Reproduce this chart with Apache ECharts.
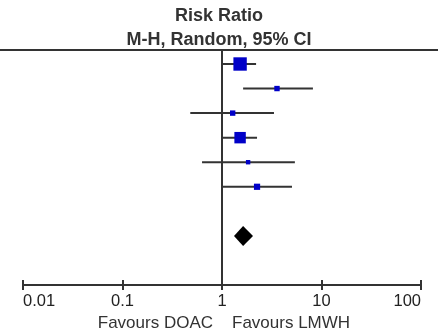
<!DOCTYPE html>
<html>
<head>
<meta charset="utf-8">
<script src="https://cdn.jsdelivr.net/npm/echarts@6/dist/echarts.min.js"></script>
<style>
  html, body { margin: 0; padding: 0; background: #fff; }
  #chart { width: 438px; height: 331px; }
</style>
</head>
<body>
<div id="chart"></div>
<script>
// study rows (top to bottom), risk ratio with 95% CI
const rows = [1, 2, 3, 4, 5, 6]
const estimates = [1.52, 3.57, 1.28, 1.52, 1.83, 2.25]
const lower = [1.0, 1.63, 0.48, 1.0, 0.63, 1.0]
const upper = [2.2, 8.2, 3.33, 2.25, 5.4, 5.05]
const weights = [37, 6, 6, 27, 4, 8]

// pooled estimate (diamond)
const pooledRow = 8
const pooledEst = 1.63
const pooledLower = 1.32
const pooledUpper = 2.05

const tickLabels = ['0.01', '0.1', '1', '10', '100']

const font = '"Liberation Sans", Arial, sans-serif'
const lineColor = '#333'

const ciData = rows.map((r, i) => [lower[i], upper[i], r])
const squareData = rows.map((r, i) => [estimates[i], r, weights[i]])

const chart = echarts.init(document.getElementById('chart'))

chart.setOption({
  animation: false,
  title: {
    text: 'Risk Ratio\nM-H, Random, 95% CI',
    left: 'center',
    top: 4,
    padding: 0,
    textStyle: {
      fontFamily: font,
      fontSize: 18,
      fontWeight: 'bold',
      lineHeight: 24,
      color: '#333'
    }
  },
  grid: [
    { left: 23, right: 17, top: 50, bottom: 46 },
    { left: 23, right: 17, bottom: 46, height: 1 }
  ],
  xAxis: [
    {
      type: 'log',
      gridIndex: 0,
      min: 0.01,
      max: 100,
      logBase: 10,
      splitLine: { show: false },
      axisLine: { lineStyle: { color: lineColor, width: 2 } },
      axisTick: { length: 5, lineStyle: { color: lineColor, width: 2 } },
      axisLabel: {
        fontFamily: font,
        fontSize: 16.5,
        color: '#222',
        margin: 8,
        alignMinLabel: 'left',
        alignMaxLabel: 'right',
        formatter: (v, i) => tickLabels[i]
      }
    },
    {
      type: 'log',
      gridIndex: 1,
      min: 0.01,
      max: 100,
      logBase: 10,
      splitLine: { show: false },
      axisLine: { lineStyle: { color: lineColor, width: 2 } },
      axisTick: { inside: true, length: 5, lineStyle: { color: lineColor, width: 2 } },
      axisLabel: { show: false }
    }
  ],
  yAxis: [
    { type: 'value', gridIndex: 0, min: 0.43, max: 10, inverse: true, show: false },
    { type: 'value', gridIndex: 1, min: 0, max: 1, show: false }
  ],
  graphic: [
    {
      type: 'line',
      shape: { x1: 0, y1: 50, x2: 438, y2: 50 },
      style: { stroke: lineColor, lineWidth: 2 }
    },
    {
      type: 'text',
      x: 213, y: 323,
      style: {
        text: 'Favours DOAC', font: '17px ' + font, fill: '#333',
        align: 'right', verticalAlign: 'middle'
      }
    },
    {
      type: 'text',
      x: 232, y: 323,
      style: {
        text: 'Favours LMWH', font: '17px ' + font, fill: '#333',
        align: 'left', verticalAlign: 'middle'
      }
    }
  ],
  series: [
    {
      type: 'custom',
      name: 'ci',
      xAxisIndex: 0,
      yAxisIndex: 0,
      data: ciData,
      renderItem(params, api) {
        const a = api.coord([api.value(0), api.value(2)])
        const b = api.coord([api.value(1), api.value(2)])
        return {
          type: 'line',
          shape: { x1: a[0], y1: a[1], x2: b[0], y2: b[1] },
          style: { stroke: lineColor, lineWidth: 2 }
        }
      },
      markLine: {
        silent: true,
        symbol: 'none',
        label: { show: false },
        lineStyle: { color: lineColor, width: 2, type: 'solid' },
        data: [{ xAxis: 1 }]
      },
      z: 3
    },
    {
      type: 'scatter',
      name: 'studies',
      xAxisIndex: 0,
      yAxisIndex: 0,
      data: squareData,
      symbol: 'rect',
      symbolSize: (val) => 2.2 * Math.sqrt(val[2]),
      itemStyle: { color: '#0000c8', opacity: 1 },
      z: 4
    },
    {
      type: 'custom',
      name: 'pooled',
      xAxisIndex: 0,
      yAxisIndex: 0,
      data: [[pooledLower, pooledEst, pooledUpper, pooledRow]],
      renderItem(params, api) {
        const r = api.value(3)
        const l = api.coord([api.value(0), r])
        const m = api.coord([api.value(1), r])
        const h = api.coord([api.value(2), r])
        return {
          type: 'polygon',
          shape: { points: [[l[0], l[1]], [m[0], m[1] - 10], [h[0], h[1]], [m[0], m[1] + 10]] },
          style: { fill: '#000' }
        }
      },
      z: 4
    }
  ]
})
</script>
</body>
</html>
